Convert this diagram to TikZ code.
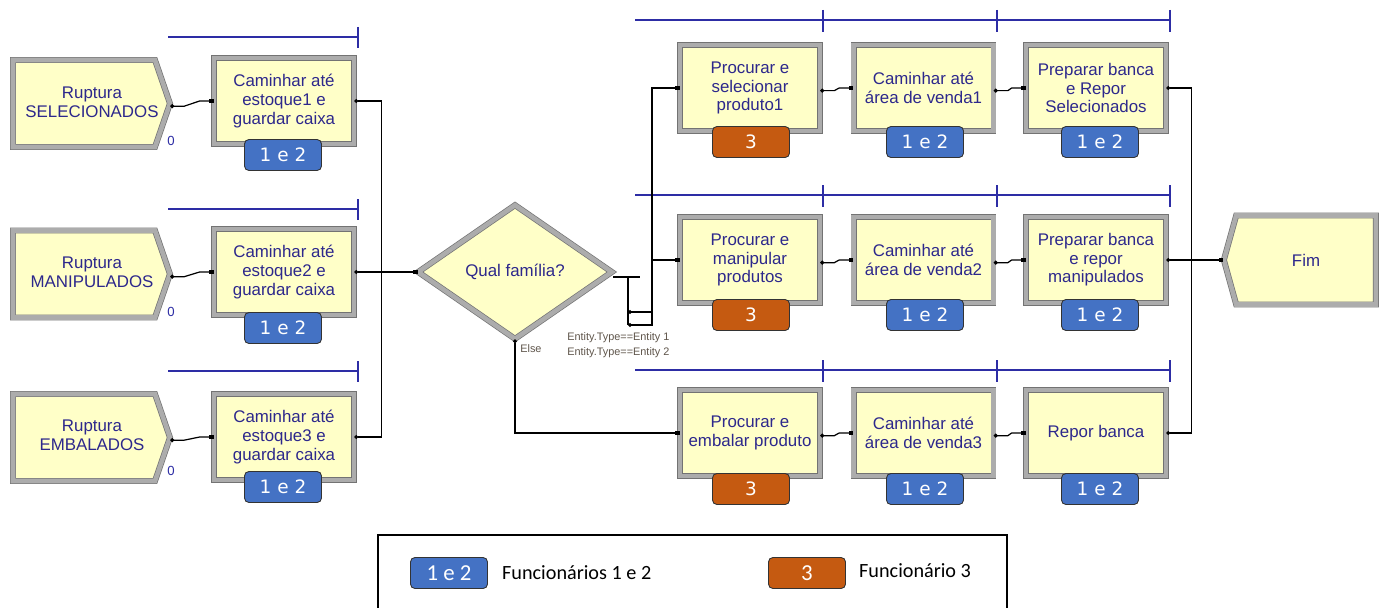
\documentclass[tikz,border=0pt]{standalone}
\usepackage{fontspec}
\setmainfont{Liberation Sans}
\newfontfamily\badgefont{DejaVu Sans}
\newfontfamily\legfont{Carlito}
\usetikzlibrary{shapes.geometric,shapes.symbols,arrows.meta,calc}
\definecolor{ayellow}{RGB}{255,255,200}
\definecolor{abord}{RGB}{115,115,115}
\definecolor{aband}{RGB}{172,172,172}
\definecolor{atext}{RGB}{45,40,140}
\definecolor{bblue}{RGB}{68,114,196}
\definecolor{borange}{RGB}{197,90,17}
\definecolor{rline}{RGB}{45,45,165}
\definecolor{ctext}{RGB}{95,85,75}
\tikzset{
  module/.style={draw=abord, double=aband, double distance=2.6pt, line width=0.4pt,
    fill=ayellow, text=atext, font=\fontsize{9.6}{10.6}\selectfont, align=center, inner sep=0pt},
  proc/.style={module, rectangle, minimum width=2.8cm, minimum height=1.72cm},
  create/.style={module, signal, signal to=east, signal pointer angle=142,
    minimum width=3.14cm, minimum height=1.74cm},
  dispose/.style={module, signal, signal to=west, signal pointer angle=149,
    minimum width=3.04cm, minimum height=1.78cm},
  mtext/.style={text=atext, font=\fontsize{9.6}{10.6}\selectfont, align=center, inner sep=0pt},
  badge/.style={rounded corners=2.5pt, draw=black!80, line width=0.5pt, minimum width=1.54cm,
    minimum height=0.62cm, text=white, font=\badgefont\fontsize{10.5}{10.5}\selectfont, inner sep=0pt},
  b12/.style={badge, fill=bblue},
  b3/.style={badge, fill=borange},
  conn/.style={line width=0.7pt, {Circle[length=2.2pt]}-{Square[length=2.6pt]}},
  res/.style={rline, line width=0.8pt},
  zero/.style={text=rline, font=\fontsize{7.5}{7.5}\selectfont, inner sep=0pt},
  cond/.style={text=ctext, font=\fontsize{6.2}{7}\selectfont, inner sep=0pt, anchor=west},
}
\newcommand{\jog}[2]{\draw[conn] ([yshift=-1.5pt]#1.east) -- ([xshift=8pt,yshift=-1.5pt]#1.east) -- ([xshift=-8pt]#2.west) -- (#2.west);}
\begin{document}
\begin{tikzpicture}[x=0.02cm,y=-0.02cm]
\useasboundingbox[fill=white] (0,0) rectangle (1389,608);
% resource lines
\foreach \yy in {37,209,371}{
  \draw[res] (168,\yy) -- (358,\yy);
  \draw[res] (358,\yy-10) -- (358,\yy+11);
}
\foreach \yy in {20,195,370}{
  \draw[res] (635,\yy) -- (1170,\yy);
  \foreach \xx in {823,997,1170}{\draw[res] (\xx,\yy-10) -- (\xx,\yy+12);}
}
% create modules
\node[create] (C1) at (84,103.5) {};
\node[create] (C2) at (84,274) {};
\node[create] (C3) at (84,437.5) {};
\node[mtext] (C1t) at (92,102) {Ruptura\\SELECIONADOS};
\node[mtext] (C2t) at (92,272) {Ruptura\\MANIPULADOS};
\node[mtext] (C3t) at (92,435) {Ruptura\\EMBALADOS};
\node[zero] (z1) at (171,141) {0};
\node[zero] (z2) at (171,312) {0};
\node[zero] (z3) at (171,471) {0};
% left process
\node[proc] (L1) at (284,101) {Caminhar até\\estoque1 e\\guardar caixa};
\node[proc] (L2) at (284,272) {Caminhar até\\estoque2 e\\guardar caixa};
\node[proc] (L3) at (284,437) {Caminhar até\\estoque3 e\\guardar caixa};
\node[b12] (bL1) at (283,155) {1 e 2};
\node[b12] (bL2) at (283,328) {1 e 2};
\node[b12] (bL3) at (283,487) {1 e 2};
% decide
\node[module, diamond, aspect=1.45, minimum width=3.88cm, minimum height=2.68cm] (D) at (515,272) {Qual família?};
% right process
\node[proc] (R11) at (750,88) {Procurar e\\selecionar\\produto1};
\node[proc] (R12) at (923.5,88) {Caminhar até\\área de venda1};
\node[proc] (R13) at (1096,88) {Preparar banca\\e Repor\\Selecionados};
\node[proc] (R21) at (750,260) {Procurar e\\manipular\\produtos};
\node[proc] (R22) at (923.5,260) {Caminhar até\\área de venda2};
\node[proc] (R23) at (1096,260) {Preparar banca\\e repor\\manipulados};
\node[proc] (R31) at (750,433) {Procurar e\\embalar produto};
\node[proc] (R32) at (923.5,433) {Caminhar até\\área de venda3};
\node[proc] (R33) at (1096,433) {Repor banca};
\node[b3] (b11) at (751,142) {3};
\node[b12] (b12) at (925,142) {1 e 2};
\node[b12] (b13) at (1100,142) {1 e 2};
\node[b3] (b21) at (751,315) {3};
\node[b12] (b22) at (925,315) {1 e 2};
\node[b12] (b23) at (1100,315) {1 e 2};
\node[b3] (b31) at (751,489) {3};
\node[b12] (b32) at (925,489) {1 e 2};
\node[b12] (b33) at (1100,489) {1 e 2};
% dispose
\node[dispose] (F) at (1306,260) {Fim};
% connectors left
\jog{C1}{L1}
\jog{C2}{L2}
\jog{C3}{L3}
\draw[conn] (L1.east) -- ++(27,0) |- (D.west);
\draw[conn] (L3.east) -- ++(27,0) |- (D.west);
\draw[conn] (L2.east) -- (D.west);
% decide exits
\coordinate (dx0) at (613,277);
\coordinate (e1) at (628,312);
\coordinate (e2) at (628,325);
\draw[line width=0.7pt] (dx0) -- (640,277);
\draw[line width=0.7pt] (628,277) -- (e2);
\draw[conn] (e1) -- (652,312) |- (R11.west);
\draw[conn] (e2) -- (652,325) |- (R21.west);
\draw[conn] (D.south) |- (R31.west);
\node[cond] (t1) at (567,338) {Entity.Type==Entity 1};
\node[cond] (t2) at (567,353) {Entity.Type==Entity 2};
\node[cond] (te) at (520,349) {Else};
% row connectors
\jog{R11}{R12}
\jog{R12}{R13}
\jog{R21}{R22}
\jog{R22}{R23}
\jog{R31}{R32}
\jog{R32}{R33}
\draw[conn] (R13.east) -- ++(25,0) |- (F.west);
\draw[conn] (R33.east) -- ++(25,0) |- (F.west);
\draw[conn] (R23.east) -- (F.west);
% legend
\draw[line width=0.6pt] (378,615) -- (378,535) -- (1007,535) -- (1007,615);
\node[b12, font=\legfont\fontsize{13}{13}\selectfont] (lb1) at (449,573) {1 e 2};
\node[anchor=west, font=\legfont\fontsize{11.5}{13}\selectfont] (lt1) at (496,573) {Funcionários 1 e 2};
\node[b3, font=\legfont\fontsize{13}{13}\selectfont] (lb2) at (807,573) {3};
\node[anchor=west, font=\legfont\fontsize{11.5}{13}\selectfont] (lt2) at (853,571) {Funcionário 3};
\end{tikzpicture}
\end{document}
